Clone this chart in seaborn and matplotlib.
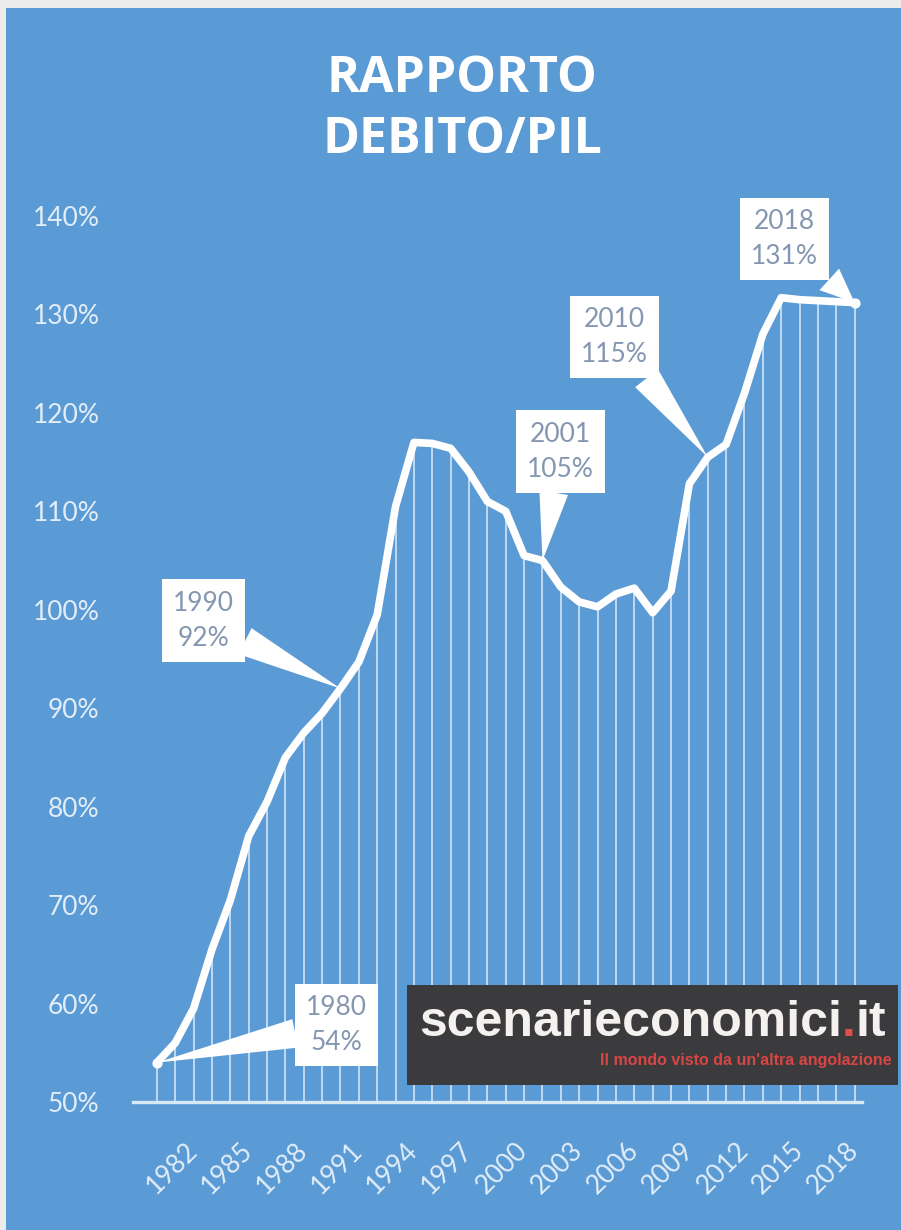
import matplotlib
matplotlib.use("Agg")
import matplotlib.pyplot as plt
import matplotlib.patches as mpatches
import seaborn as sns
import pandas as pd

# Rapporto debito/PIL (Italia)
years = list(range(1980, 2019))
debt_ratio = [54.0, 56.0, 59.5, 65.5, 70.5, 77.0, 80.5, 85.0, 87.5, 89.5,
              92.0, 94.7, 99.5, 110.5, 117.0, 116.9, 116.4, 114.0, 111.0, 110.0,
              105.5, 105.0, 102.3, 100.8, 100.3, 101.6, 102.2, 99.7, 101.9, 112.8,
              115.5, 116.8, 122.0, 128.0, 131.7, 131.5, 131.4, 131.3, 131.2]

tick_years = list(range(1982, 2019, 3))
y_ticks = list(range(50, 141, 10))

callout_years = [1980, 1990, 2001, 2010, 2018]
callout_labels = ["1980\n54%", "1990\n92%", "2001\n105%", "2010\n115%", "2018\n131%"]
callout_offsets = [(180, 38), (-137, 68), (18, 109), (-93, 120), (-70, 64)]

title_lines = ["RAPPORTO", "DEBITO/PIL"]
logo_text = "scenarieconomici"
logo_tagline = "Il mondo visto da un'altra angolazione"

BLUE = "#5b9bd5"
TICK_COLOR = "#e2edf8"
BOX_TEXT = "#8597b0"

df = pd.DataFrame({"year": years, "ratio": debt_ratio})

sns.set_style("white")
plt.rcParams["font.family"] = ["Lato", "DejaVu Sans"]

W, H = 901, 1230
fig = plt.figure(figsize=(W / 100, H / 100), dpi=100)
fig.patch.set_facecolor("#ececec")
fig.add_artist(mpatches.Rectangle((6 / W, 0), 1, 1 - 8 / H, transform=fig.transFigure,
                                  facecolor=BLUE, edgecolor="none", zorder=0))

ax = fig.add_axes([133 / W, (H - 1102) / H, (862 - 133) / W, (1102 - 216) / H])
ax.set_facecolor("none")

# drop lines from each point to the axis
ax.vlines(df["year"], 50, df["ratio"], color="#d4e6f7", lw=1.3, alpha=0.9, zorder=1)

sns.lineplot(data=df, x="year", y="ratio", ax=ax, color="white", lw=5.5,
             solid_joinstyle="round", solid_capstyle="round", zorder=3)

ends = df[df["year"].isin([years[0], years[-1]])]
ax.scatter(ends["year"], ends["ratio"], s=40, color="white", zorder=4)

ax.set_xlim(1978.7, 2018.4)
ax.set_ylim(50, 140)
ax.set_xticks(tick_years)
ax.set_xticklabels([str(y) for y in tick_years], rotation=45, ha="right",
                   va="center", rotation_mode="anchor")
ax.set_yticks(y_ticks)
ax.set_yticklabels([f"{v}%" for v in y_ticks])
ax.tick_params(axis="both", length=0, labelsize=19, colors=TICK_COLOR)
ax.tick_params(axis="y", pad=24)
ax.tick_params(axis="x", pad=32)
ax.set_xlabel("")
ax.set_ylabel("")

for side in ["top", "right", "left"]:
    ax.spines[side].set_visible(False)
ax.spines["bottom"].set_color("#d9e8f6")
ax.spines["bottom"].set_linewidth(2.4)
ax.spines["bottom"].set_zorder(2)

ratio_by_year = dict(zip(years, debt_ratio))
for yr, lab, off in zip(callout_years, callout_labels, callout_offsets):
    ax.annotate(lab, xy=(yr, ratio_by_year[yr]), xytext=off, textcoords="offset pixels",
                ha="center", va="center", fontsize=19, color=BOX_TEXT, linespacing=1.5,
                bbox=dict(boxstyle="square,pad=0.42", fc="white", ec="none"),
                arrowprops=dict(arrowstyle="wedge,tail_width=1.1,shrink_factor=0.5",
                                fc="white", ec="none", shrinkA=0, shrinkB=0),
                zorder=5, annotation_clip=False)

# title
title_font = dict(ha="center", va="center", color="white", fontsize=36,
                  fontweight="bold", family=["Open Sans", "DejaVu Sans"])
fig.text(462 / W, 1 - 79 / H, title_lines[0], **title_font)
fig.text(462 / W, 1 - 140 / H, title_lines[1], **title_font)

# logo box
fig.add_artist(mpatches.Rectangle((407 / W, (H - 1085) / H), (898 - 407) / W, 100 / H,
                                  transform=fig.transFigure, facecolor="#3b3b3d",
                                  edgecolor="none", zorder=6))
fig.canvas.draw()
renderer = fig.canvas.get_renderer()
base_y = (H - 1036) / H
logo_font = dict(fontsize=36, fontweight="bold", family=["Liberation Sans", "DejaVu Sans"],
                 va="baseline", ha="left", zorder=7)
t1 = fig.text(419 / W, base_y, logo_text, color="#f4f1ee", **logo_font)
bb1 = t1.get_window_extent(renderer)
t2 = fig.text(bb1.x1 / W, base_y, ".", color="#e0504a", **logo_font)
bb2 = t2.get_window_extent(renderer)
fig.text(bb2.x1 / W, base_y, "it", color="#f4f1ee", **logo_font)
fig.text(892 / W, 1 - 1061 / H, logo_tagline, color="#d84545", fontsize=11.5,
         fontweight="bold", family=["Liberation Sans", "DejaVu Sans"],
         ha="right", va="center", zorder=7)

fig.savefig("out.png", dpi=100, facecolor=fig.get_facecolor())
